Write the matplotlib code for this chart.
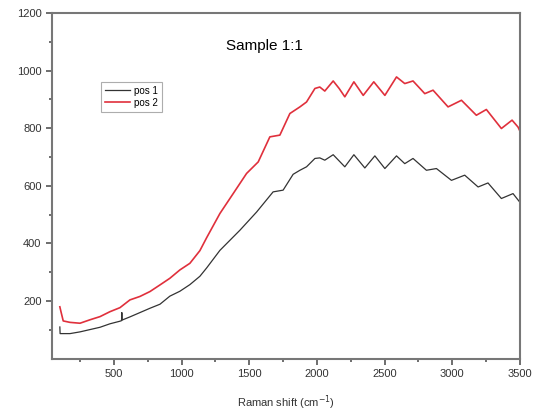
import matplotlib.pyplot as plt
from matplotlib.ticker import MultipleLocator

plt.rcParams['font.family'] = ['Liberation Sans', 'DejaVu Sans']

# pos 1 (black)
x_pos1 = [100, 102, 175, 249, 323, 397, 470, 544, 556, 558, 560, 618, 692, 766, 840, 913,
          987, 1061, 1135, 1185, 1283, 1431, 1554, 1676, 1750, 1824, 1874, 1923, 1985, 2021,
          2058, 2120, 2206, 2273, 2354, 2428, 2502, 2588, 2649, 2710, 2809, 2883, 2994, 3092,
          3191, 3264, 3363, 3449, 3498]
y_pos1 = [110, 87, 87, 93, 101, 109, 121, 130, 132, 160, 134, 145, 160, 175, 189, 217,
          234, 257, 286, 315, 376, 446, 509, 579, 585, 640, 654, 666, 695, 697,
          689, 708, 666, 708, 662, 704, 660, 704, 677, 695, 654, 660, 619, 637,
          596, 610, 556, 573, 544]

# pos 2 (red)
x_pos2 = [100, 110, 125, 175, 249, 323, 397, 470, 544, 618, 692, 766, 840, 913, 987, 1061,
          1135, 1185, 1283, 1381, 1480, 1566, 1652, 1726, 1800, 1874, 1923, 1985, 2021, 2058,
          2120, 2164, 2206, 2273, 2342, 2420, 2502, 2588, 2649, 2710, 2797, 2858, 2969, 3068,
          3178, 3252, 3363, 3442, 3486, 3500]
y_pos2 = [180, 160, 131, 126, 123, 135, 146, 163, 177, 204, 216, 233, 256, 279, 308, 331,
          375, 420, 504, 573, 643, 683, 770, 776, 851, 874, 891, 938, 943, 929,
          964, 938, 909, 961, 914, 961, 914, 978, 955, 964, 920, 932, 874, 897,
          845, 865, 799, 828, 804, 790]

fig = plt.figure(figsize=(5.36, 4.19), dpi=100)
ax = fig.add_axes([0.097, 0.144, 0.873, 0.825])

ax.plot(x_pos1, y_pos1, color='#333333', lw=0.9, label='pos 1', solid_joinstyle='round')
ax.plot(x_pos2, y_pos2, color='#e0303c', lw=1.2, label='pos 2', solid_joinstyle='round')

ax.set_xlim(42, 3500)
ax.set_ylim(0, 1200)
ax.set_xticks([500, 1000, 1500, 2000, 2500, 3000, 3500])
ax.set_yticks([200, 400, 600, 800, 1000, 1200])
ax.xaxis.set_minor_locator(MultipleLocator(250))
ax.set_yticks([100, 300, 500, 700, 900, 1100], minor=True)
ax.tick_params(which='both', direction='out', labelsize=8, colors='#555555',
               labelcolor='#333333', width=1.2)
ax.tick_params(which='major', length=4)
ax.tick_params(which='minor', length=2.5)
for s in ax.spines.values():
    s.set_color('#777777')
    s.set_linewidth(1.5)

ax.set_xlabel('Raman shift (cm$^{-1}$)', fontsize=8, color='#333333', labelpad=10)
ax.text(0.455, 0.905, 'Sample 1:1', transform=ax.transAxes, fontsize=11,
        ha='center', va='center')

leg = ax.legend(loc='upper left', bbox_to_anchor=(0.095, 0.815), fontsize=7,
                handlelength=2.6, frameon=True, fancybox=False, borderpad=0.4,
                labelspacing=0.2, handletextpad=0.4)
leg.get_frame().set_edgecolor('#999999')
leg.get_frame().set_linewidth(0.8)

fig.savefig('out.png', dpi=100)
